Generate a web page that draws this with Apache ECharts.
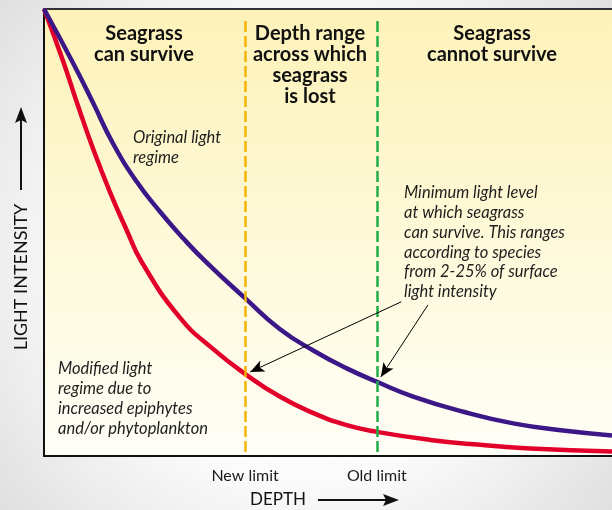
<!DOCTYPE html>
<html>
<head>
<meta charset="utf-8">
<script src="https://cdn.jsdelivr.net/npm/echarts@6/dist/echarts.min.js"></script>
<style>
html,body{margin:0;padding:0;background:#fff;}
#chart{width:612px;height:510px;}
</style>
</head>
<body>
<div id="chart"></div>
<script>
// Depth positions (0-100 relative units) and light intensity (0-100 % of surface)
const originalDepth = [0, 5.16, 8.68, 12.2, 16.3, 20.4, 24.5, 28.6, 35.4, 41.5, 47.4, 53.3, 58.6, 65.0, 73.8, 82.6, 91.4, 100];
const originalLight = [100, 87.8, 78.9, 69.8, 61.4, 54.7, 48.7, 43.3, 35.3, 28.4, 23.6, 19.6, 16.6, 13.3, 9.9, 7.3, 5.7, 4.6];
const modifiedDepth = [0, 3.4, 5.76, 8.68, 11.6, 14.6, 17.2, 23.9, 29.8, 35.7, 41.5, 47.4, 53.3, 58.6, 68.0, 76.8, 85.6, 100];
const modifiedLight = [100, 88.2, 79.2, 68.6, 59.1, 50.4, 43.4, 31.0, 23.9, 18.1, 13.3, 9.6, 6.9, 5.4, 3.6, 2.5, 1.7, 1.0];
const newLimit = 35.4;
const oldLimit = 58.6;
const limitLabels = {35.4: 'New limit', 58.6: 'Old limit'};
const limitSpan = [0.9, 98.2];
// arrows from the "Minimum light level" note to the curves at each limit
const arrowStarts = [[62.9, 34.5], [67.6, 33.8]];
const arrowEnds = [[36.3, 18.8], [59.3, 17.7]];
const zoneTitles = ['Seagrass\ncan survive', 'Depth range\nacross which\nseagrass\nis lost', 'Seagrass\ncannot survive'];
const notes = ['Original light\nregime',
  'Minimum light level\nat which seagrass\ncan survive. This ranges\naccording to species\nfrom 2-25% of surface\nlight intensity',
  'Modified light\nregime due to\nincreased epiphytes\nand/or phytoplankton'];
const xTitle = 'DEPTH';
const yTitle = 'LIGHT INTENSITY';

const zip = (a, b) => a.map((v, i) => [v, b[i]]);
const FONT = 'Lato, "Open Sans", sans-serif';

const chart = echarts.init(document.getElementById('chart'), null, {renderer: 'canvas'});
const option = {
  animation: false,
  backgroundColor: {
    type: 'radial', x: 0.5, y: 0.5, r: 0.8,
    colorStops: [{offset: 0, color: '#ffffff'}, {offset: 0.55, color: '#fbfbfb'}, {offset: 1, color: '#dedede'}]
  },
  grid: {
    left: 44, right: 0, top: 9, bottom: 54,
    show: true, borderWidth: 0,
    backgroundColor: {
      type: 'linear', x: 0, y: 0, x2: 0, y2: 1,
      colorStops: [{offset: 0, color: '#fdf2b8'}, {offset: 0.5, color: '#fef9d8'}, {offset: 1, color: '#fffef7'}]
    }
  },
  xAxis: [{
    type: 'value', min: 0, max: 100, position: 'bottom',
    axisLine: {show: true, onZero: false, lineStyle: {color: '#111', width: 2}},
    axisTick: {show: false}, splitLine: {show: false},
    axisLabel: {
      show: true, customValues: [newLimit, oldLimit], margin: 12,
      formatter: v => limitLabels[v] || '',
      fontFamily: FONT, fontSize: 16, color: '#1a1a1a'
    }
  }, {
    type: 'value', min: 0, max: 100, position: 'top',
    axisLine: {show: true, onZero: false, lineStyle: {color: '#333', width: 2}},
    axisTick: {show: false}, splitLine: {show: false}, axisLabel: {show: false}
  }],
  yAxis: {
    type: 'value', min: 0, max: 100,
    axisLine: {show: true, onZero: false, lineStyle: {color: '#111', width: 2}},
    axisTick: {show: false}, splitLine: {show: false}, axisLabel: {show: false}
  },
  series: [
    {
      type: 'line', name: 'Limits', data: [], silent: true,
      markLine: {
        silent: true, symbol: ['none', 'none'], label: {show: false},
        data: [
          [{coord: [newLimit, limitSpan[0]], lineStyle: {color: '#f6b400', width: 2.5, type: [11, 4]}},
           {coord: [newLimit, limitSpan[1]]}],
          [{coord: [oldLimit, limitSpan[0]], lineStyle: {color: '#20ad48', width: 2.5, type: [11, 4]}},
           {coord: [oldLimit, limitSpan[1]]}]
        ]
      }
    },
    {
      type: 'line', name: 'Modified light regime', data: zip(modifiedDepth, modifiedLight),
      smooth: 0.5, showSymbol: false, silent: true,
      lineStyle: {color: '#e2002b', width: 4.5}
    },
    {
      type: 'line', name: 'Original light regime', data: zip(originalDepth, originalLight),
      smooth: 0.5, showSymbol: false, silent: true,
      lineStyle: {color: '#3b1787', width: 4.5},
      markLine: {
        silent: true, symbol: ['none', 'arrow'], symbolSize: [9, 14], label: {show: false},
        lineStyle: {color: '#000', width: 1, type: 'solid'},
        data: arrowStarts.map((s, i) => [{coord: s}, {coord: arrowEnds[i]}])
      }
    }
  ],
  graphic: [
    {type: 'text', silent: true, style: {text: zoneTitles[0], x: 144, y: 23, textAlign: 'center', font: 'bold 20px ' + FONT, lineHeight: 21, fill: '#111'}},
    {type: 'text', silent: true, style: {text: zoneTitles[1], x: 310, y: 23, textAlign: 'center', font: 'bold 20px ' + FONT, lineHeight: 21, fill: '#111'}},
    {type: 'text', silent: true, style: {text: zoneTitles[2], x: 492, y: 23, textAlign: 'center', font: 'bold 20px ' + FONT, lineHeight: 21, fill: '#111'}},
    {type: 'text', silent: true, style: {text: notes[0], x: 133, y: 128, textAlign: 'left', font: 'italic 16.5px ' + FONT, lineHeight: 20, fill: '#1e1e1e'}},
    {type: 'text', silent: true, style: {text: notes[1], x: 404, y: 183, textAlign: 'left', font: 'italic 16.5px ' + FONT, lineHeight: 19.8, fill: '#1e1e1e'}},
    {type: 'text', silent: true, style: {text: notes[2], x: 58, y: 359, textAlign: 'left', font: 'italic 16.5px ' + FONT, lineHeight: 20, fill: '#1e1e1e'}},
    // x axis title with arrow
    {type: 'text', silent: true, style: {text: xTitle, x: 250, y: 500, textVerticalAlign: 'middle', font: '17px ' + FONT, fill: '#111'}},
    {type: 'line', silent: true, shape: {x1: 318, y1: 500, x2: 388, y2: 500}, style: {stroke: '#111', lineWidth: 2}},
    {type: 'polygon', silent: true, shape: {points: [[399, 500], [383, 494], [386, 500], [383, 506]]}, style: {fill: '#111'}},
    // y axis title with arrow
    {type: 'text', silent: true, rotation: Math.PI / 2, x: 21, y: 277,
     style: {text: yTitle, x: 0, y: 0, textAlign: 'center', textVerticalAlign: 'middle', font: '18px ' + FONT, fill: '#111'}},
    {type: 'line', silent: true, shape: {x1: 21, y1: 190, x2: 21, y2: 118}, style: {stroke: '#111', lineWidth: 2}},
    {type: 'polygon', silent: true, shape: {points: [[21, 107], [15, 123], [21, 120], [27, 123]]}, style: {fill: '#111'}}
  ]
};
chart.setOption(option);
</script>
</body>
</html>
